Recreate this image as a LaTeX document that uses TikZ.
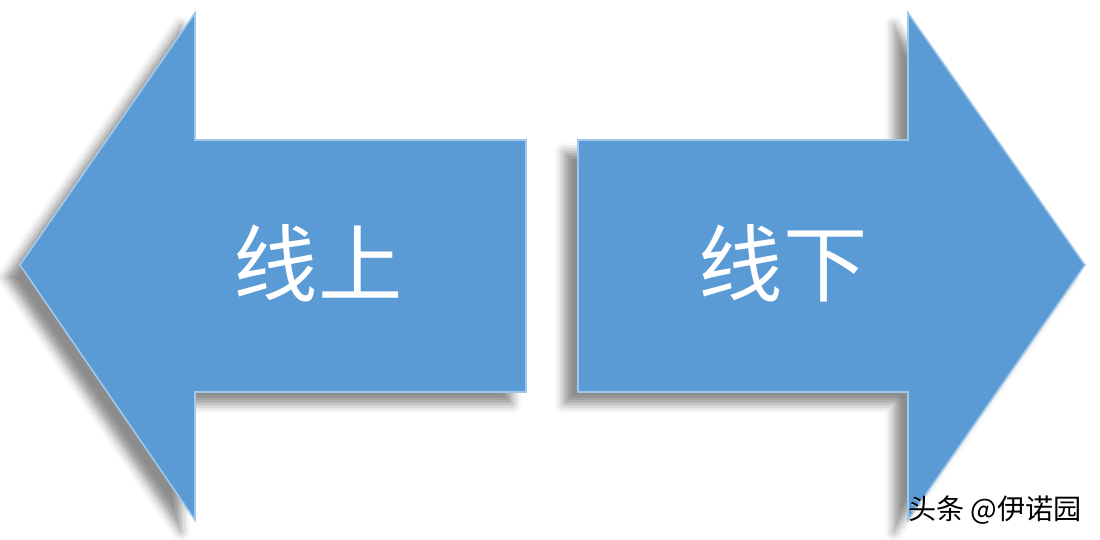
\documentclass[tikz,border=0pt]{standalone}
\usepackage{fontspec}
\newfontfamily\cjk{Noto Sans CJK SC}
\usetikzlibrary{shadows.blur}
\definecolor{arrowblue}{RGB}{91,155,213}
\definecolor{arrowedge}{RGB}{160,200,235}

\begin{document}
\begin{tikzpicture}[x=0.02cm,y=-0.02cm,
  bigarrow/.style={fill=arrowblue,draw=arrowedge,line width=0.9pt,
    blur shadow={shadow xshift=-0.28cm,shadow yshift=-0.24cm,
      shadow blur radius=0.18cm,shadow opacity=45}},
  wordlabel/.style={text=white,inner sep=0pt,font=\cjk\fontsize{48}{48}\selectfont},
  marklabel/.style={inner sep=0pt,font=\cjk\fontsize{16}{16}\selectfont}]
\useasboundingbox (0,0) rectangle (1100,540);
% left arrow
\filldraw[bigarrow] (20,265) -- (195,13) -- (195,140) -- (526,140) -- (526,392)
  -- (195,392) -- (195,520) -- cycle;
% right arrow
\filldraw[bigarrow] (578,140) -- (908,140) -- (908,13) -- (1085,265) -- (908,520)
  -- (908,392) -- (578,392) -- cycle;
\node[wordlabel] (online) at (318,263) {线上};
\node[wordlabel] (offline) at (783,263) {线下};
% watermark
\node[marklabel,text=white] (markback) at (995.8,510.8) {头条 @伊诺园};
\node[marklabel,text=black] (mark) at (995,510) {头条 @伊诺园};
\end{tikzpicture}
\end{document}
